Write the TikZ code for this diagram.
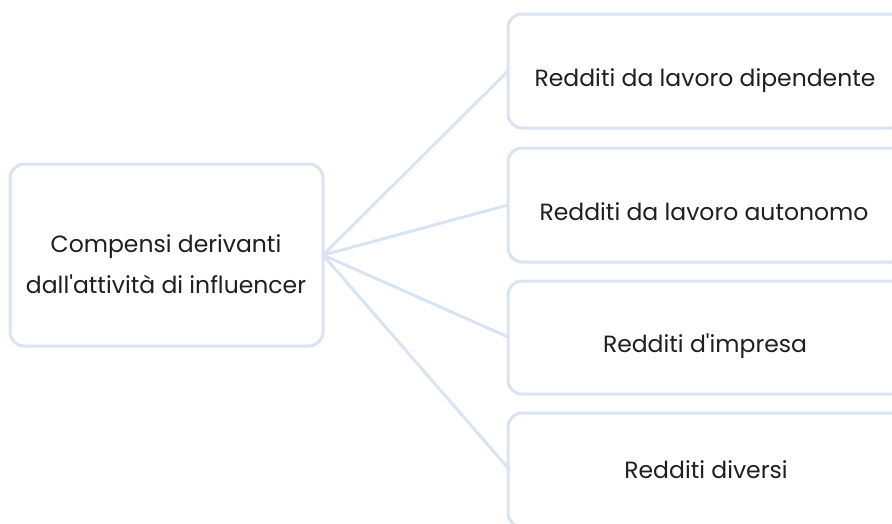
\documentclass[tikz,border=0pt]{standalone}
\usepackage{fontspec}
\setmainfont{Poppins}
\definecolor{edgeblue}{HTML}{DAE3F1}
\begin{document}
\begin{tikzpicture}[x=1pt,y=-1pt,
  box/.style={draw=edgeblue,line width=3pt,rounded corners=14pt,fill=white},
  lbl/.style={font=\fontsize{23.5}{41}\selectfont,text=black!88,align=center,anchor=base,inner sep=0pt},
  conn/.style={draw=edgeblue,line width=3pt}]
\useasboundingbox (0,0) rectangle (892,523);
\clip (0,0) rectangle (892,523);
\coordinate (hub) at (323,255);
\draw[box] (10,164) rectangle (323,346);
\node[lbl] (src) at (166,293) {Compensi derivanti\\dall\textquotesingle attività di influencer};
\draw[conn] (hub) -- (508,71);
\draw[conn] (hub) -- (508,205);
\draw[conn] (hub) -- (508,337);
\draw[conn] (hub) -- (508,468);
\draw[box] (508,14) rectangle (905,128);
\draw[box] (508,148) rectangle (905,262);
\draw[box] (508,281) rectangle (905,394);
\draw[box] (508,413) rectangle (905,527);
\node[lbl] (a) at (705,86) {Redditi da lavoro dipendente};
\node[lbl] (b) at (704,220) {Redditi da lavoro autonomo};
\node[lbl] (c) at (705,352) {Redditi d\textquotesingle impresa};
\node[lbl] (d) at (706,478) {Redditi diversi};
\end{tikzpicture}
\end{document}
